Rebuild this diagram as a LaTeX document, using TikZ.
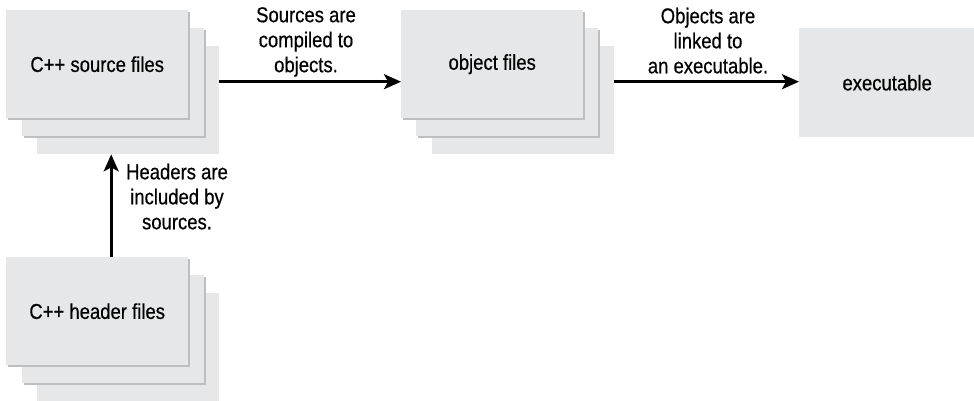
\documentclass[tikz,border=0pt]{standalone}
\usepackage{fontspec}
\setmainfont{Liberation Sans}[FakeStretch=0.86,FakeBold=0.5]
\usetikzlibrary{arrows.meta,shadows}
\definecolor{boxfill}{HTML}{E6E7E8}
\definecolor{boxedge}{HTML}{BCBEC0}
\begin{document}
\begin{tikzpicture}[x=1pt,y=-1pt,
  txt/.style={font=\fontsize{21.5}{25}\selectfont},
  filebox/.style={txt, fill=boxfill, minimum width=182pt, minimum height=108pt,
    inner sep=0pt, anchor=north west},
  shad/.style={general shadow={fill=boxedge, shadow xshift=1.6pt, shadow yshift=-1.6pt}},
  arr/.style={line width=2.7pt, -{Stealth[length=17pt,width=15pt,inset=4pt]}},
  lbl/.style={txt, align=center, inner sep=0pt, anchor=north}]
\useasboundingbox (0,0) rectangle (974,401);
% source stack
\node[filebox] (src3) at (37,46) {};
\node[filebox,shad] (src2) at (22,28) {};
\node[filebox,shad] (src1) at (6,10) {C++ source files};
% object stack
\node[filebox] (obj3) at (432,46) {};
\node[filebox,shad] (obj2) at (416,28) {};
\node[filebox,shad] (obj1) at (401,10) {object files};
% header stack
\node[filebox] (hdr3) at (37,293) {};
\node[filebox,shad] (hdr2) at (22,275) {};
\node[filebox,shad] (hdr1) at (6,257) {C++ header files};
% executable
\node[filebox, minimum width=176pt, minimum height=109pt] (exe) at (799,28) {executable};
% arrows
\coordinate (a1) at ([yshift=18.5pt]src3.east);
\draw[arr] (a1) -- (a1 -| obj1.west);
\coordinate (a2) at ([yshift=18.5pt]obj3.east);
\draw[arr] (a2) -- (a2 -| exe.west);
\coordinate (a3) at ([xshift=14pt]hdr1.north);
\draw[arr] (a3) -- (a3 |- src3.south);
% labels
\node[lbl] (l1) at (306,7) {Sources are\\compiled to\\objects.};
\node[lbl] (l2) at (708,7.5) {Objects are\\linked to\\an executable.};
\node[lbl] (l3) at (177,163.5) {Headers are\\included by\\sources.};
\end{tikzpicture}
\end{document}
